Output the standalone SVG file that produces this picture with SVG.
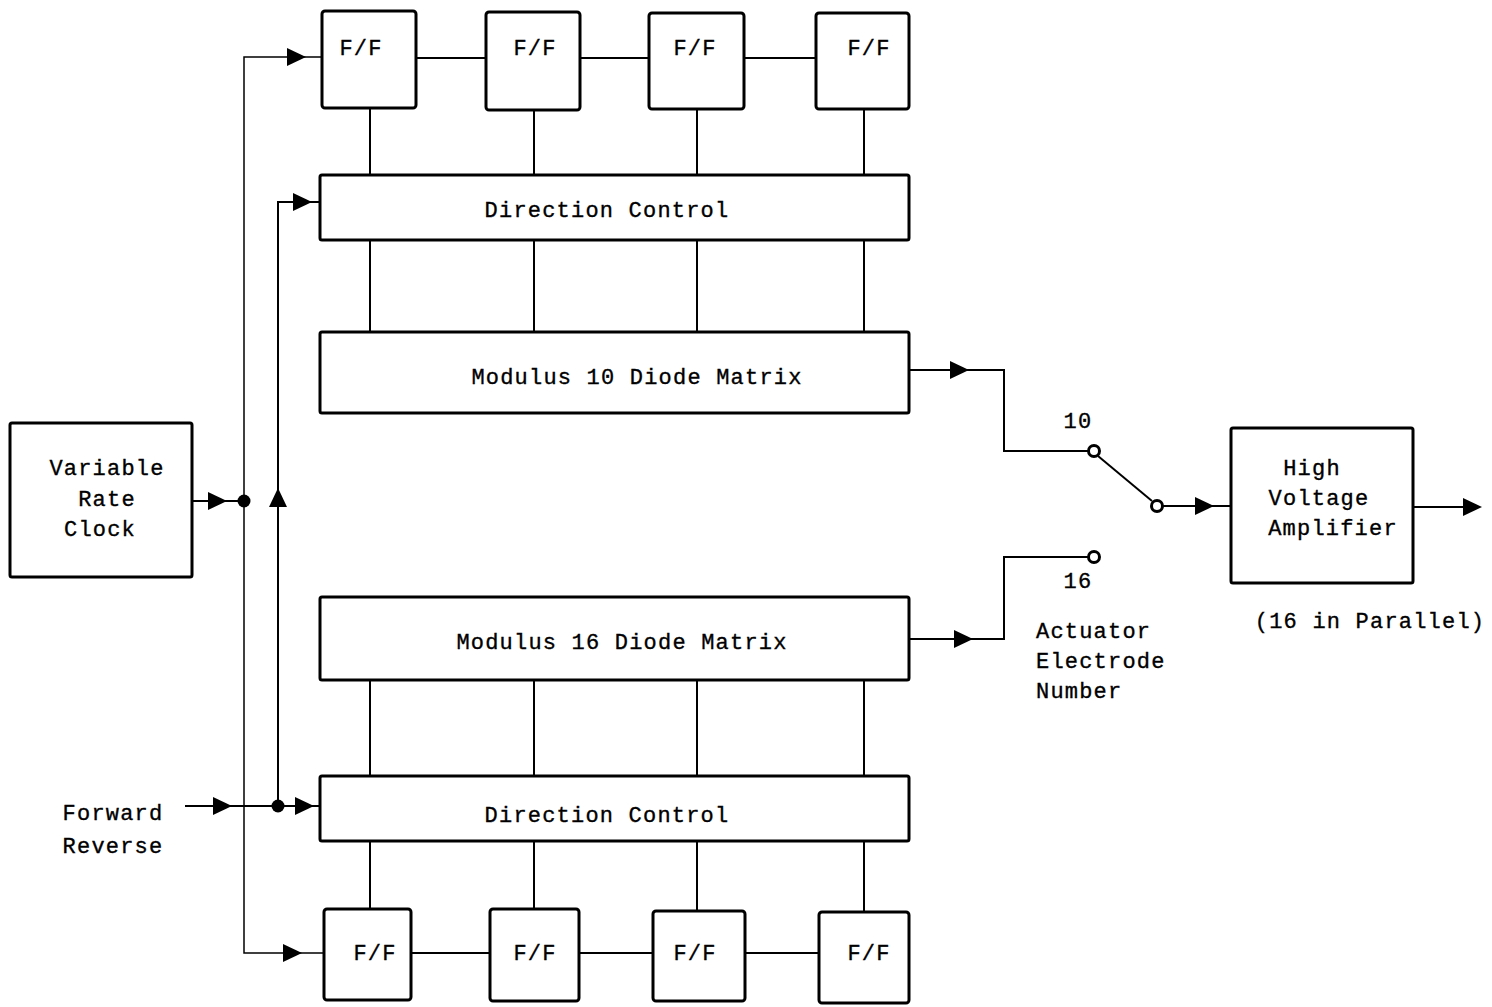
<svg xmlns="http://www.w3.org/2000/svg" width="1492" height="1007" viewBox="0 0 1492 1007">
<style>
.box{fill:#fff;stroke:#000;stroke-width:3;}
.ln{fill:none;stroke:#000;stroke-width:2;}
.thin{fill:none;stroke:#000;stroke-width:1.5;}
text{font-family:"Liberation Mono","Courier New",monospace;font-size:22px;fill:#000;letter-spacing:1.2px;stroke:#000;stroke-width:0.35;}
.c{text-anchor:middle;}
.dot{fill:#000;}
.term{fill:#fff;stroke:#000;stroke-width:3;}
</style>
<defs>
<path id="arr" d="M-19,-9 L0,0 L-19,9 Z" fill="#000"/>
</defs>
<rect width="1492" height="1007" fill="#fff"/>
<g id="connectors">
<!-- top FF chain -->
<line class="ln" x1="416" y1="58" x2="486" y2="58"/>
<line class="ln" x1="580" y1="58" x2="649" y2="58"/>
<line class="ln" x1="744" y1="58" x2="816" y2="58"/>
<!-- top FF to DC -->
<line class="ln" x1="370" y1="108" x2="370" y2="175"/>
<line class="ln" x1="534" y1="110" x2="534" y2="175"/>
<line class="ln" x1="697" y1="109" x2="697" y2="175"/>
<line class="ln" x1="864" y1="109" x2="864" y2="175"/>
<!-- DC to Mod10 -->
<line class="ln" x1="370" y1="240" x2="370" y2="332"/>
<line class="ln" x1="534" y1="240" x2="534" y2="332"/>
<line class="ln" x1="697" y1="240" x2="697" y2="332"/>
<line class="ln" x1="864" y1="240" x2="864" y2="332"/>
<!-- Mod16 to DC bottom -->
<line class="ln" x1="370" y1="680" x2="370" y2="776"/>
<line class="ln" x1="534" y1="680" x2="534" y2="776"/>
<line class="ln" x1="697" y1="680" x2="697" y2="776"/>
<line class="ln" x1="864" y1="680" x2="864" y2="776"/>
<!-- DC bottom to bottom FF -->
<line class="ln" x1="370" y1="841" x2="370" y2="909"/>
<line class="ln" x1="534" y1="841" x2="534" y2="909"/>
<line class="ln" x1="697" y1="841" x2="697" y2="911"/>
<line class="ln" x1="864" y1="841" x2="864" y2="912"/>
<!-- bottom FF chain -->
<line class="ln" x1="411" y1="953" x2="490" y2="953"/>
<line class="ln" x1="579" y1="953" x2="653" y2="953"/>
<line class="ln" x1="745" y1="953" x2="819" y2="953"/>
<!-- clock bus -->
<polyline class="thin" points="322,57 244,57 244,953 324,953"/>
<line class="ln" x1="192" y1="501" x2="244" y2="501"/>
<circle class="dot" cx="244" cy="501" r="6.5"/>
<use href="#arr" transform="translate(306,57)"/>
<use href="#arr" transform="translate(302,953)"/>
<use href="#arr" transform="translate(227,501)"/>
<!-- direction bus -->
<polyline class="ln" points="320,202 278,202 278,806"/>
<line class="ln" x1="185" y1="806" x2="320" y2="806"/>
<circle class="dot" cx="278" cy="806" r="6.5"/>
<use href="#arr" transform="translate(312,202)"/>
<use href="#arr" transform="translate(278,488) rotate(-90)"/>
<use href="#arr" transform="translate(232,806)"/>
<use href="#arr" transform="translate(314,806)"/>
<!-- Mod10 output to switch -->
<polyline class="ln" points="909,370 1004,370 1004,451 1088,451"/>
<use href="#arr" transform="translate(969,370)"/>
<!-- Mod16 output to switch -->
<polyline class="ln" points="909,639 1004,639 1004,557 1088,557"/>
<use href="#arr" transform="translate(973,639)"/>
<!-- switch -->
<line class="ln" x1="1098" y1="456" x2="1152" y2="501"/>
<circle class="term" cx="1094" cy="451" r="5.5"/>
<circle class="term" cx="1094" cy="557" r="5.5"/>
<circle class="term" cx="1157" cy="506" r="5.5"/>
<line class="ln" x1="1163" y1="506" x2="1231" y2="506"/>
<use href="#arr" transform="translate(1214,506)"/>
<!-- amp output -->
<line class="ln" x1="1413" y1="507" x2="1480" y2="507"/>
<use href="#arr" transform="translate(1482,507)"/>
</g>
<g id="ff_top_1"><rect class="box" x="322" y="11" width="94" height="97" rx="3"/><text class="c" x="361" y="55">F/F</text></g>
<g id="ff_top_2"><rect class="box" x="486" y="12" width="94" height="98" rx="3"/><text class="c" x="535" y="55">F/F</text></g>
<g id="ff_top_3"><rect class="box" x="649" y="13" width="95" height="96" rx="3"/><text class="c" x="695" y="55">F/F</text></g>
<g id="ff_top_4"><rect class="box" x="816" y="13" width="93" height="96" rx="3"/><text class="c" x="869" y="55">F/F</text></g>
<g id="dc_top"><rect class="box" x="320" y="175" width="589" height="65" rx="2"/><text class="c" x="607" y="217">Direction Control</text></g>
<g id="mod10"><rect class="box" x="320" y="332" width="589" height="81" rx="2"/><text class="c" x="637" y="384">Modulus 10 Diode Matrix</text></g>
<g id="mod16"><rect class="box" x="320" y="597" width="589" height="83" rx="2"/><text class="c" x="622" y="649">Modulus 16 Diode Matrix</text></g>
<g id="dc_bottom"><rect class="box" x="320" y="776" width="589" height="65" rx="2"/><text class="c" x="607" y="822">Direction Control</text></g>
<g id="ff_bot_1"><rect class="box" x="324" y="909" width="87" height="91" rx="3"/><text class="c" x="375" y="960">F/F</text></g>
<g id="ff_bot_2"><rect class="box" x="490" y="909" width="89" height="92" rx="3"/><text class="c" x="535" y="960">F/F</text></g>
<g id="ff_bot_3"><rect class="box" x="653" y="911" width="92" height="90" rx="3"/><text class="c" x="695" y="960">F/F</text></g>
<g id="ff_bot_4"><rect class="box" x="819" y="912" width="90" height="91" rx="3"/><text class="c" x="869" y="960">F/F</text></g>
<g id="clock"><rect class="box" x="10" y="423" width="182" height="154" rx="2"/>
<text class="c" x="107" y="475">Variable</text><text class="c" x="107" y="506">Rate</text><text class="c" x="100" y="536">Clock</text></g>
<g id="fwdrev"><text class="c" x="113" y="820">Forward</text><text class="c" x="113" y="853">Reverse</text></g>
<g id="amp"><rect class="box" x="1231" y="428" width="182" height="155" rx="2"/>
<text class="c" x="1312" y="475">High</text><text class="c" x="1319" y="505">Voltage</text><text class="c" x="1333" y="535">Amplifier</text></g>
<g id="labels">
<text class="c" x="1078" y="428">10</text>
<text class="c" x="1078" y="588">16</text>
<text x="1036" y="638">Actuator</text>
<text x="1036" y="668">Electrode</text>
<text x="1036" y="698">Number</text>
<text class="c" x="1370" y="628">(16 in Parallel)</text>
</g>
</svg>
